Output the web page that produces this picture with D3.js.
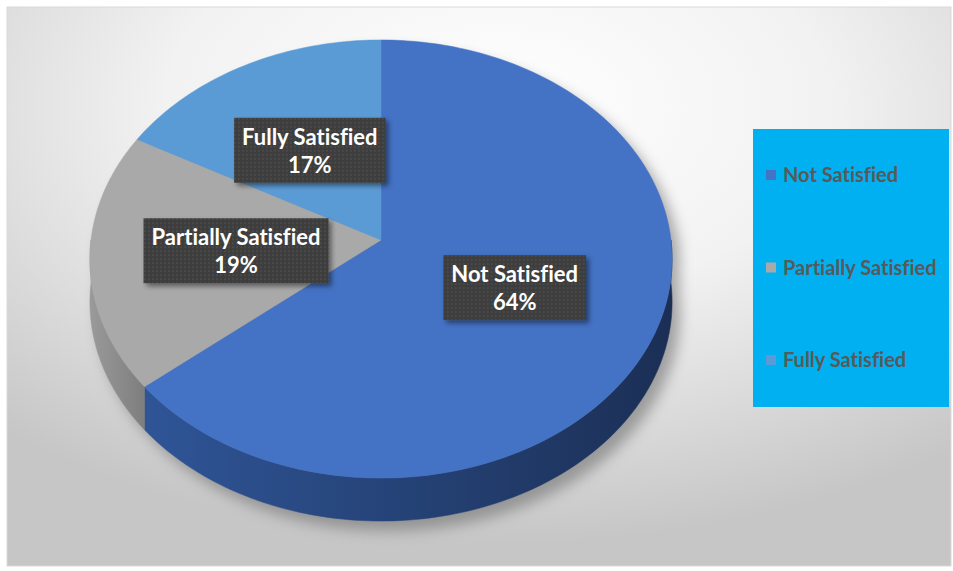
<!DOCTYPE html>
<html>
<head>
<meta charset="utf-8">
<script src="https://cdn.jsdelivr.net/npm/d3@7"></script>
<style>
  body { margin: 0; background: #fff; }
  text { font-family: Lato, "Open Sans", sans-serif; font-weight: bold; font-variant-ligatures: none; }
</style>
</head>
<body>
<div id="chart"></div>
<script>
// data
const categories = ["Not Satisfied", "Partially Satisfied", "Fully Satisfied"];
const values = [64, 19, 17];
const topColors = ["#4472C4", "#A9A9A9", "#5B9BD5"];
const sideLight = ["#2f5597", "#9a9a9a", "#4a86bf"];
const sideDark = ["#1b2f55", "#7e7e7e", "#2f5f8f"];

const width = 953, height = 571;

const svg = d3.select("#chart").append("svg")
  .attr("width", width)
  .attr("height", height);

const defs = svg.append("defs");

// chart area background
const bg = defs.append("radialGradient")
  .attr("id", "bg")
  .attr("cx", "52%").attr("cy", "18%").attr("r", "78%");
bg.append("stop").attr("offset", "0%").attr("stop-color", "#ffffff");
bg.append("stop").attr("offset", "45%").attr("stop-color", "#f2f2f2");
bg.append("stop").attr("offset", "100%").attr("stop-color", "#c6c6c6");

const shadowBlur = defs.append("filter").attr("id", "blur")
  .attr("x", "-20%").attr("y", "-20%").attr("width", "140%").attr("height", "140%");
shadowBlur.append("feGaussianBlur").attr("stdDeviation", 7);

const boxShadow = defs.append("filter").attr("id", "boxshadow")
  .attr("x", "-20%").attr("y", "-20%").attr("width", "150%").attr("height", "160%");
boxShadow.append("feDropShadow")
  .attr("dx", 3).attr("dy", 3).attr("stdDeviation", 2.5)
  .attr("flood-color", "#000").attr("flood-opacity", 0.45);

const dots = defs.append("pattern")
  .attr("id", "dots")
  .attr("width", 4).attr("height", 4)
  .attr("patternUnits", "userSpaceOnUse");
dots.append("rect").attr("width", 4).attr("height", 4).attr("fill", "#3d3d3d");
dots.append("circle").attr("cx", 1).attr("cy", 1).attr("r", 0.8).attr("fill", "#575757");

categories.forEach((c, i) => {
  const g = defs.append("linearGradient")
    .attr("id", "side" + i)
    .attr("x1", "0%").attr("x2", "100%").attr("y1", "0%").attr("y2", "0%");
  g.append("stop").attr("offset", "0%").attr("stop-color", sideLight[i]);
  g.append("stop").attr("offset", "100%").attr("stop-color", sideDark[i]);
});

svg.append("rect")
  .attr("x", 7).attr("y", 7)
  .attr("width", 944).attr("height", 559)
  .attr("fill", "url(#bg)")
  .attr("stroke", "#d9d9d9")
  .attr("stroke-width", 1);

// 3d projection of the pie disc
const cx = 381, cy = 240, rx = 290, ry = 217.4, persp = 0.0868, depth = 43;

function proj(a, r = 1, h = 0) {
  const u = r * Math.sin(a), v = -r * Math.cos(a);
  const s = 1 / (1 - persp * v);
  return [cx + rx * u * s, cy + ry * v * s + h];
}

const pie = d3.pie().sort(null).value(d => d.value);
const arcs = pie(categories.map((c, i) => ({ name: c, value: values[i], i })));

const line = d3.line();

function arcPoints(a0, a1, h) {
  const n = Math.max(2, Math.ceil(Math.abs(a1 - a0) / 0.02));
  return d3.range(n + 1).map(k => proj(a0 + (a1 - a0) * k / n, 1, h));
}

// drop shadow of the whole disc
const silhouette = arcPoints(Math.PI / 2, 1.5 * Math.PI, depth)
  .concat(arcPoints(1.5 * Math.PI, 2.5 * Math.PI, 0));
svg.append("path")
  .attr("d", line(silhouette) + "Z")
  .attr("transform", "translate(8,10)")
  .attr("fill", "#707070")
  .attr("opacity", 0.6)
  .attr("filter", "url(#blur)");

// side walls (front half only)
const sides = svg.append("g");
arcs.forEach(d => {
  const a0 = Math.max(d.startAngle, Math.PI / 2);
  const a1 = Math.min(d.endAngle, 1.5 * Math.PI);
  if (a1 <= a0) return;
  const pts = arcPoints(a0, a1, 0).concat(arcPoints(a1, a0, depth));
  sides.append("path")
    .attr("d", line(pts) + "Z")
    .attr("fill", `url(#side${d.data.i})`)
    .attr("stroke", `url(#side${d.data.i})`)
    .attr("stroke-width", 0.5);
});

// top faces
const tops = svg.append("g");
arcs.forEach(d => {
  const pts = [proj(0, 0)].concat(arcPoints(d.startAngle, d.endAngle, 0));
  tops.append("path")
    .attr("d", line(pts) + "Z")
    .attr("fill", topColors[d.data.i])
    .attr("stroke", topColors[d.data.i])
    .attr("stroke-width", 0.5);
});

// data labels
const labels = svg.append("g");
arcs.forEach(d => {
  const mid = (d.startAngle + d.endAngle) / 2;
  const [lx, ly] = proj(mid, 0.5);
  const g = labels.append("g").attr("transform", `translate(${lx},${ly})`);
  const box = g.append("rect")
    .attr("fill", "url(#dots)")
    .attr("filter", "url(#boxshadow)");
  const t = g.append("text")
    .attr("text-anchor", "middle")
    .attr("fill", "#fff")
    .style("font-size", "22px");
  t.append("tspan").attr("x", 0).attr("y", -5).text(d.data.name);
  t.append("tspan").attr("x", 0).attr("y", 23)
    .text(Math.round(d.data.value) + "%");
  const w = d3.max(t.selectAll("tspan").nodes(), n => n.getComputedTextLength());
  box.attr("x", -w / 2 - 8).attr("y", -32).attr("width", w + 16).attr("height", 65);
});

// legend
const legend = svg.append("g");
legend.append("rect")
  .attr("x", 753).attr("y", 129)
  .attr("width", 196).attr("height", 278)
  .attr("fill", "#00B0F0");

const legendY = d3.scalePoint()
  .domain(categories)
  .range([175, 360]);

const items = legend.selectAll("g.item")
  .data(categories)
  .join("g")
  .attr("class", "item")
  .attr("transform", d => `translate(766,${legendY(d)})`);

items.append("rect")
  .attr("x", 0).attr("y", -5)
  .attr("width", 10).attr("height", 10)
  .attr("fill", (d, i) => topColors[i]);

items.append("text")
  .attr("x", 17).attr("y", 7)
  .attr("fill", "#595959")
  .style("font-size", "20px")
  .text(d => d);
</script>
</body>
</html>
